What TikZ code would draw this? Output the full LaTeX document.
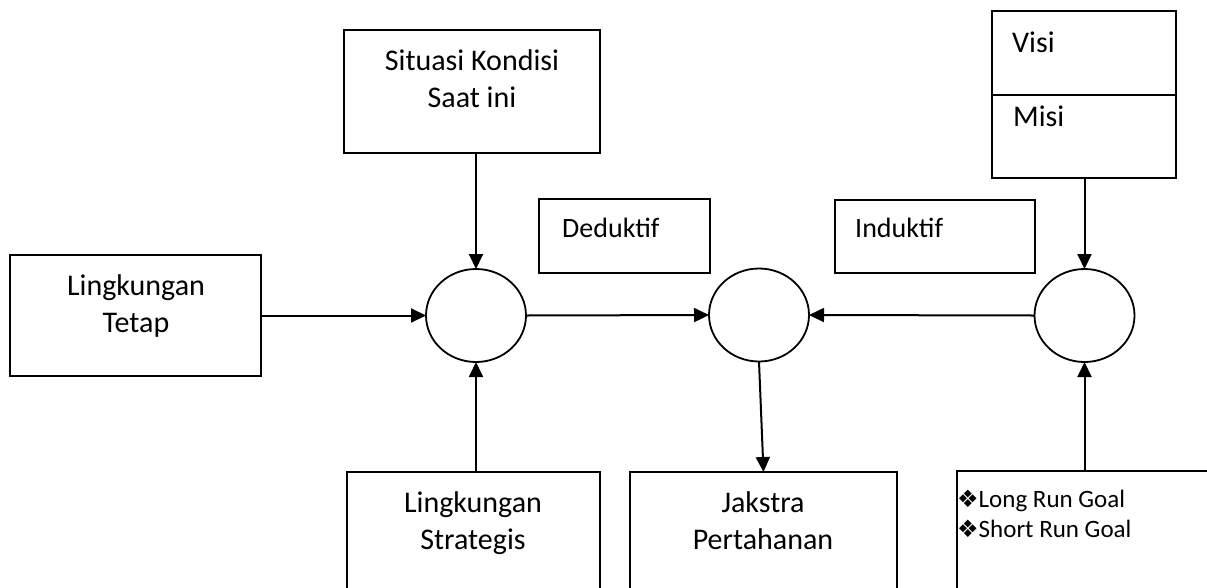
\documentclass[tikz,border=0pt]{standalone}
\usepackage{fontspec}
\setmainfont{Carlito}
\newfontfamily\symfont{DejaVu Sans}
\usetikzlibrary{arrows.meta,shapes.geometric}
\tikzset{
  box/.style={draw,line width=2pt,rectangle,inner sep=0pt,outer sep=0pt},
  circ/.style={draw,line width=1.8pt,ellipse,inner sep=0pt,outer sep=0pt,minimum width=100pt,minimum height=93pt},
  big/.style={font=\fontsize{30}{37}\selectfont,align=center,inner sep=0pt},
  mid/.style={font=\fontsize{28}{34}\selectfont,inner sep=0pt},
  small/.style={font=\fontsize{25}{30}\selectfont,inner sep=0pt},
  arr/.style={line width=2pt,-{Triangle[length=15pt,width=14pt]}},
}
\begin{document}
\begin{tikzpicture}[x=1pt,y=-1pt]
\useasboundingbox (0,0) rectangle (1207,587);
\clip (0,0) rectangle (1207,587);
% boxes
\node[box,minimum width=251pt,minimum height=121pt] (tetap) at (135.5,315.5) {};
\node[box,minimum width=256pt,minimum height=123pt] (sit) at (472,91.5) {};
\node[box,minimum width=253pt,minimum height=178pt] (strat) at (473.5,561) {};
\node[box,minimum width=267pt,minimum height=178pt] (jak) at (763.5,561) {};
\node[box,minimum width=303pt,minimum height=178pt] (goal) at (1108.5,560) {};
\node[box,minimum width=171pt,minimum height=74pt] (ded) at (624.5,236) {};
\node[box,minimum width=200pt,minimum height=73pt] (ind) at (935,236.5) {};
\node[box,minimum width=184pt,minimum height=84pt] (visi) at (1084,53) {};
\node[box,minimum width=184pt,minimum height=83pt] (misi) at (1084,136.5) {};
% circles
\node[circ] (c1) at (476,315.5) {};
\node[circ] (c2) at (759,315) {};
\node[circ] (c3) at (1084.5,315.5) {};
% texts
\node[big] (ttetap) at (136,306) {Lingkungan\\Tetap};
\node[big] (tsit) at (472,79) {Situasi Kondisi\\Saat ini};
\node[big] (tstrat) at (473,523) {Lingkungan\\Strategis};
\node[big] (tjak) at (763,521) {Jakstra\\Pertahanan};
\node[mid,anchor=base west] (tded) at (562,237) {Deduktif};
\node[mid,anchor=base west] (tind) at (855,237) {Induktif};
\node[big,anchor=base west] (tvisi) at (1012,52) {Visi};
\node[big,anchor=base west] (tmisi) at (1013,126) {Misi};
\node[small,anchor=base west] (tlong) at (957,507) {{\symfont\fontsize{24}{24}\selectfont ❖}Long Run Goal};
\node[small,anchor=base west] (tshort) at (957,537) {{\symfont\fontsize{24}{24}\selectfont ❖}Short Run Goal};
% connectors
\draw[arr] (tetap.east |- c1.west) -- (c1.west);
\draw[arr] (sit.south -| c1.north) -- (c1.north);
\draw[arr] (strat.north -| c1.south) -- (c1.south);
\draw[arr] (c1.east) -- (c2.west);
\draw[arr] (c3.west) -- (c2.east);
\draw[arr] (c2.south) -- (jak.north);
\draw[arr] (misi.south -| c3.north) -- (c3.north);
\draw[arr] (goal.north -| c3.south) -- (c3.south);
\end{tikzpicture}
\end{document}
